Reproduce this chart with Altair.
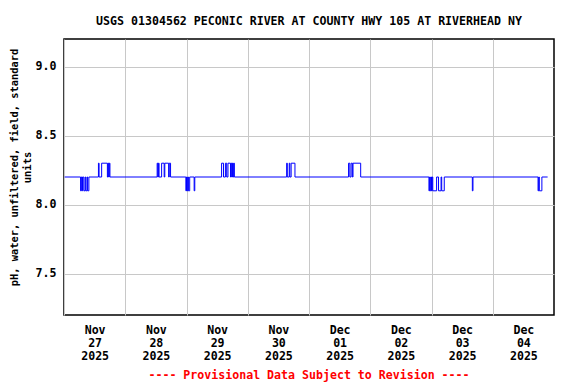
import json
import altair as alt
import pandas as pd

TITLE = "USGS 01304562 PECONIC RIVER AT COUNTY HWY 105 AT RIVERHEAD NY"
Y_TITLE = ["pH, water, unfiltered, field, standard", "units"]
FOOTER = "---- Provisional Data Subject to Revision ----"

# x tick labels (one per day, centred on noon)
months = ["Nov", "Nov", "Nov", "Nov", "Dec", "Dec", "Dec", "Dec"]
days = ["27", "28", "29", "30", "01", "02", "03", "04"]
years = ["2025"] * 8
y_ticks = [7.5, 8.0, 8.5, 9.0]

# pH readings: times at which the value changes (step series)
times = [
    "2025-11-27 00:15", "2025-11-27 06:30", "2025-11-27 06:45", "2025-11-27 07:00",
    "2025-11-27 07:15", "2025-11-27 07:45", "2025-11-27 08:15", "2025-11-27 08:30",
    "2025-11-27 09:00", "2025-11-27 09:15", "2025-11-27 09:45",
    "2025-11-27 13:30", "2025-11-27 13:45", "2025-11-27 14:45", "2025-11-27 17:00",
    "2025-11-27 17:15", "2025-11-27 17:30", "2025-11-27 17:45", "2025-11-27 18:00",
    "2025-11-28 12:30", "2025-11-28 12:45", "2025-11-28 13:00", "2025-11-28 13:15",
    "2025-11-28 14:15", "2025-11-28 15:15", "2025-11-28 15:30", "2025-11-28 17:00",
    "2025-11-28 17:15", "2025-11-28 17:45",
    "2025-11-28 23:45", "2025-11-29 00:00", "2025-11-29 00:15", "2025-11-29 00:30",
    "2025-11-29 00:45", "2025-11-29 01:15", "2025-11-29 03:00", "2025-11-29 03:15",
    "2025-11-29 13:45", "2025-11-29 14:30", "2025-11-29 15:15", "2025-11-29 15:45",
    "2025-11-29 16:15", "2025-11-29 17:15", "2025-11-29 17:30", "2025-11-29 17:45",
    "2025-11-29 18:00", "2025-11-29 18:15", "2025-11-29 18:30", "2025-11-29 18:45",
    "2025-11-30 15:15", "2025-11-30 15:30", "2025-11-30 16:15", "2025-11-30 16:30",
    "2025-11-30 17:00", "2025-11-30 18:30",
    "2025-12-01 15:30", "2025-12-01 16:00", "2025-12-01 16:30", "2025-12-01 17:00",
    "2025-12-01 17:15", "2025-12-01 20:15",
    "2025-12-02 23:00", "2025-12-02 23:15", "2025-12-02 23:30", "2025-12-02 23:45",
    "2025-12-03 00:00", "2025-12-03 00:15", "2025-12-03 00:30", "2025-12-03 02:00",
    "2025-12-03 02:45", "2025-12-03 03:45", "2025-12-03 04:00", "2025-12-03 05:00",
    "2025-12-03 16:00", "2025-12-03 16:15",
    "2025-12-04 17:45", "2025-12-04 18:00", "2025-12-04 18:15", "2025-12-04 19:15",
    "2025-12-04 21:30",
]
values = [
    8.2, 8.1, 8.2, 8.1,
    8.2, 8.1, 8.2, 8.1,
    8.2, 8.1, 8.2,
    8.3, 8.2, 8.3, 8.2,
    8.3, 8.2, 8.3, 8.2,
    8.3, 8.2, 8.3, 8.2,
    8.3, 8.2, 8.3, 8.2,
    8.3, 8.2,
    8.1, 8.2, 8.1, 8.2,
    8.1, 8.2, 8.1, 8.2,
    8.3, 8.2, 8.3, 8.2,
    8.3, 8.2, 8.3, 8.2,
    8.3, 8.2, 8.3, 8.2,
    8.3, 8.2, 8.3, 8.2,
    8.3, 8.2,
    8.3, 8.2, 8.3, 8.2,
    8.3, 8.2,
    8.1, 8.2, 8.1, 8.2,
    8.1, 8.2, 8.1, 8.2,
    8.1, 8.2, 8.1, 8.2,
    8.1, 8.2,
    8.1, 8.2, 8.1, 8.2,
    8.2,
]

df = pd.DataFrame({"t": pd.to_datetime(times), "ph": values})
df["h"] = (df["t"] - pd.Timestamp("2025-11-27")).dt.total_seconds() / 3600.0

FONT = "DejaVu Sans Mono"
tick_hours = [24 * i for i in range(len(days))]
label_arr = json.dumps([[m, d, y] for m, d, y in zip(months, days, years)])
label_expr = f"{label_arr}[round(datum.value / 24)]"

W, H = 490, 276

line = alt.Chart(df).mark_line(
    color="#0000ff", strokeWidth=1, interpolate="step-after"
).encode(
    x=alt.X(
        "h:Q",
        scale=alt.Scale(domain=[0, 192], nice=False, zero=False),
        axis=alt.Axis(
            values=tick_hours, labelExpr=label_expr, labelOffset=W / 16,
            grid=True, gridColor="#c8c8c8", gridWidth=1,
            ticks=False, tickSize=0, domain=False, title=None,
            labelFont=FONT, labelFontSize=11.6, labelFontWeight="bold",
            labelColor="black", labelPadding=9, labelLineHeight=13,
            labelOverlap=False, labelBound=False, labelFlush=False,
        ),
    ),
    y=alt.Y(
        "ph:Q",
        scale=alt.Scale(domain=[7.2, 9.2], nice=False, zero=False),
        axis=alt.Axis(
            values=y_ticks, format=".1f",
            grid=True, gridColor="#c8c8c8", gridWidth=1,
            ticks=False, tickSize=0, domain=False,
            labelFont=FONT, labelFontSize=11.6, labelFontWeight="bold",
            labelColor="black", labelPadding=8,
            title=Y_TITLE, titleFont=FONT, titleFontSize=10.4,
            titleFontWeight="bold", titleColor="black", titleAngle=270,
            titleAlign="center", titleBaseline="top", titleLineHeight=13.5,
            titleX=-55, titleY=128,
        ),
    ),
)

footer = alt.Chart(pd.DataFrame({"txt": [FOOTER]})).mark_text(
    font=FONT, fontSize=11.6, fontWeight="bold", color="#ff0000",
    align="center", baseline="middle",
).encode(
    text="txt:N", x=alt.value(W / 2), y=alt.value(337),
)

chart = alt.layer(line, footer).properties(
    width=W, height=H,
    padding={"left": 56, "top": 31, "right": 14, "bottom": 68},
    autosize=alt.AutoSizeParams(type="none"),
    title=alt.TitleParams(
        TITLE, anchor="middle", frame="group", font=FONT, fontSize=11.6,
        fontWeight="bold", color="black", offset=11,
    ),
).configure_view(stroke="black", strokeWidth=1.5)

chart.save("out.html", embed_options={"renderer": "svg", "actions": False})
